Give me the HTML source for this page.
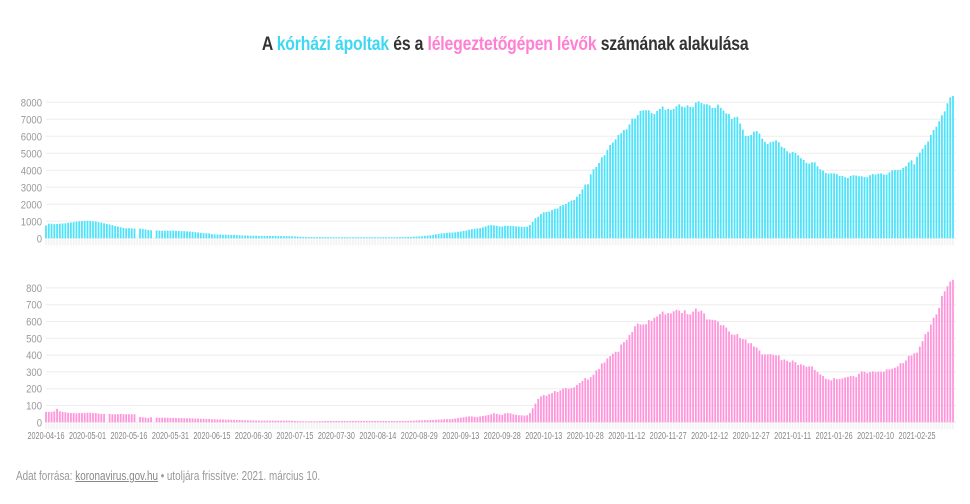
<!DOCTYPE html>
<html><head><meta charset="utf-8">
<style>
body{margin:0;background:#fff;width:970px;height:504px;overflow:hidden;font-family:"Liberation Sans",sans-serif}
#title{position:absolute;top:34px;left:0;width:1010px;text-align:center;font-weight:bold;font-size:19px;color:#333;letter-spacing:-0.2px}
#title span.in{display:inline-block;transform:scaleX(0.83);transform-origin:center}
#foot{position:absolute;left:16px;top:469px;font-size:12.5px;color:#999;transform:scaleX(0.79);transform-origin:left;white-space:nowrap}
#foot a{color:#888;text-decoration:underline}
svg{position:absolute;left:0;top:0}
</style></head><body>
<div id="title"><span class="in">A <span style="color:#3fd8f2">kórházi ápoltak</span> és a <span style="color:#ff7fd2">lélegeztetőgépen lévők</span> számának alakulása</span></div>
<svg id="chart" width="970" height="504"></svg>
<div id="foot">Adat forrása: <a>koronavirus.gov.hu</a> • utoljára frissítve: 2021. március 10.</div>
<script>
const startDate = "2020-04-16";
const hospitalized = [750,860,860,830,840,860,870,880,910,930,
950,980,1000,1010,1020,1030,1020,1000,990,950,
920,880,840,810,770,720,690,650,610,590,
590,580,570,0,570,550,520,490,470,0,
460,450,440,440,450,450,450,440,430,420,
420,410,400,380,360,340,320,300,300,290,
240,230,220,220,210,210,200,200,200,190,
180,170,160,160,150,150,150,140,140,140,
140,140,140,140,130,130,130,130,130,120,
110,100,90,80,80,70,70,70,70,70,
70,70,70,60,60,60,60,60,60,60,
60,60,60,60,60,60,60,60,60,60,
60,60,60,60,60,60,60,60,70,70,
70,80,80,100,100,110,120,140,160,180,
200,230,260,290,300,320,330,340,350,380,
400,430,460,500,540,560,580,600,640,700,
760,780,760,730,700,
690,730,740,730,720,700,690,680,670,680,
780,960,1180,1270,1430,1530,1550,1570,1670,1730,1750,1900,1960,2020,2140,2220,2250,2450,2610,2880,3160,3180,3760,4060,4200,4430,4760,4880,5200,5490,5630,5820,6080,6180,6370,6410,6700,7040,7040,7250,7490,7530,7530,7530,7370,7310,7490,7610,7750,7550,7610,7550,7610,7760,7880,7750,7710,7820,7730,7710,7980,8060,7960,7880,7880,7820,7670,7670,7860,7670,7510,7350,7310,7020,7120,7140,6750,6390,6020,6020,6080,6270,6310,6160,5860,5670,5550,5650,5690,5760,5650,5390,5310,5120,5000,5080,5020,4880,4710,4610,4430,4390,4470,4470,4240,4060,3980,3840,3800,3820,3820,3780,3670,3670,3590,3550,3670,3710,3690,3650,3650,3610,3590,3710,3780,3750,3800,3820,3750,3750,3880,4000,4020,4020,4020,4140,4240,4470,4590,4350,4800,5040,5270,5490,5690,6080,6370,6570,6880,7240,7470,7940,8290,8370];
const ventilated = [62,62,62,65,80,65,62,60,57,55,
55,53,55,55,55,57,57,55,55,52,
50,50,0,50,48,48,48,50,48,48,
48,48,48,0,32,30,28,25,30,0,
28,27,27,27,27,26,26,25,25,25,
24,24,24,23,22,22,21,21,20,20,
18,18,17,17,17,16,16,15,15,14,
14,13,12,12,11,11,10,10,10,10,
10,10,10,10,10,10,10,10,10,9,
8,7,7,6,6,6,6,6,6,7,
7,8,8,8,8,8,8,8,8,8,
8,8,8,8,8,8,8,8,8,8,
8,8,8,8,8,8,8,8,8,8,
8,8,9,10,11,12,12,13,13,14,
14,15,16,17,18,19,19,20,22,25,
28,30,33,35,35,33,32,35,38,40,
44,48,54,50,46,
44,53,55,53,48,44,42,42,40,42,55,83,111,139,154,162,158,168,174,186,180,190,200,204,200,204,208,222,234,246,263,255,269,283,309,317,350,356,380,394,408,420,420,463,477,491,521,537,572,588,582,582,584,608,604,622,630,644,659,642,650,648,661,669,665,651,667,644,642,659,677,659,665,648,612,612,610,608,600,578,578,564,541,523,521,525,501,495,493,471,471,451,445,428,404,404,404,406,402,398,398,370,374,366,358,368,358,341,345,339,331,333,333,311,299,285,275,259,255,250,263,257,257,261,267,271,275,275,269,289,303,301,293,299,303,299,301,301,301,315,315,319,325,333,352,352,368,396,398,410,414,451,483,525,539,582,622,642,681,752,780,810,838,848];
const topTicks = [0,1000,2000,3000,4000,5000,6000,7000,8000];
const bottomTicks = [0,100,200,300,400,500,600,700,800];
const xTickLabels = ["2020-04-16","2020-05-01","2020-05-16","2020-05-31","2020-06-15","2020-06-30","2020-07-15","2020-07-30","2020-08-14","2020-08-29","2020-09-13","2020-09-28","2020-10-13","2020-10-28","2020-11-12","2020-11-27","2020-12-12","2020-12-27","2021-01-11","2021-01-26","2021-02-10","2021-02-25"];

const NS="http://www.w3.org/2000/svg";
const svg=document.getElementById('chart');
const X0=46,X1=953;
function mk(t,a){const e=document.createElementNS(NS,t);for(const k in a)e.setAttribute(k,a[k]);svg.appendChild(e);return e;}
const dayMs=86400000, start=new Date(startDate+"T00:00:00Z");
function xScale(i,n){return X0+i*(X1-X0)/(n-1);}
function drawPanel(vals,ticks,base,pxPer,color,name){
  const n=vals.length;
  ticks.forEach(t=>{
    const y=base-t*pxPer;
    const g=mk('line',{x1:X0,x2:X1+3,y1:y,y2:y,stroke:'#eeeeee','stroke-width':1});
    
    
    const s=String(t);
    const tx=mk('text',{x:42,y:y+4,'text-anchor':'end','font-size':11,fill:'#999','font-family':'"Liberation Sans",sans-serif',textLength:s.length*5.3,lengthAdjust:'spacingAndGlyphs'});
    tx.textContent=s;
    
    
  });
  vals.forEach((v,i)=>{
    const x=xScale(i,n);
    const tk=mk('rect',{x:x-0.9,y:base+1,width:1.8,height:6,fill:'#f3f3f3'});
    
    
    if(v<=0)return;
    const h=v*pxPer;
    const r=mk('rect',{x:x-0.9,y:base-h,width:1.8,height:h,fill:color});
    
    
  });
}
drawPanel(hospitalized,topTicks,238.3,0.017,'#4fe3fb','hospitalized');
drawPanel(ventilated,bottomTicks,422.3,0.168,'#ff96dc','ventilated');
const nB=ventilated.length;
xTickLabels.forEach(lbl=>{
  const d=Math.round((new Date(lbl+"T00:00:00Z")-start)/dayMs);
  const t=mk('text',{x:xScale(d,nB),y:439,'text-anchor':'middle','font-size':10,fill:'#888','font-family':'"Liberation Sans",sans-serif',textLength:37,lengthAdjust:'spacingAndGlyphs'});
  t.textContent=lbl;
  
  
});
</script>
</body></html>
